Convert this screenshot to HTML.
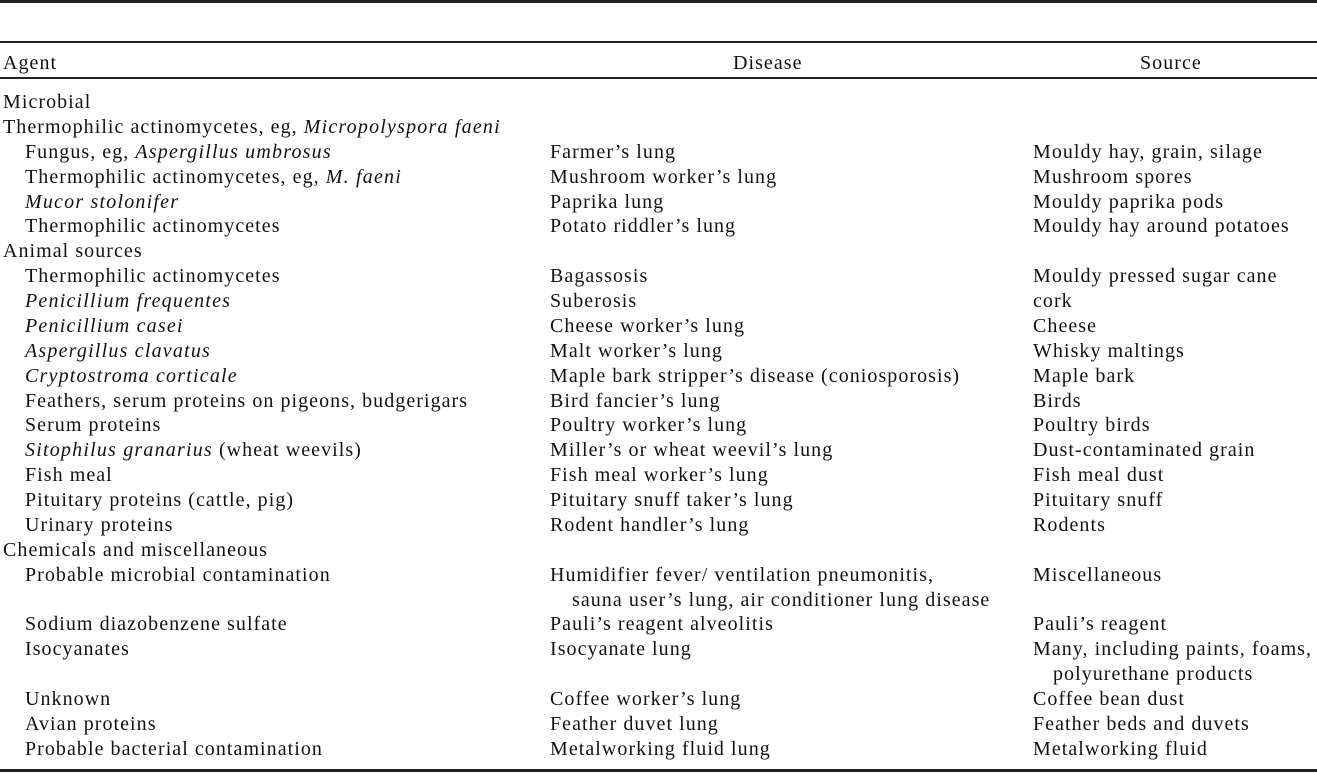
<!DOCTYPE html>
<html><head><meta charset="utf-8"><style>
body{margin:0;width:1317px;height:774px;background:#fff;position:relative;overflow:hidden;font-family:"Liberation Serif",serif;font-size:20px;letter-spacing:1.05px;color:#111}
.l{position:absolute;left:0;width:1317px;background:#222}
.c{position:absolute;top:90px;line-height:24.88px;white-space:nowrap}
.c div{height:24.88px}
.i{padding-left:22px}
.h{position:absolute;top:51px;line-height:25px}
i{letter-spacing:1.2px}
</style></head><body>
<div class="l" style="top:0;height:3px"></div>
<div class="l" style="top:41px;height:2px"></div>
<div class="l" style="top:77px;height:2px"></div>
<div class="l" style="top:769px;height:3px"></div>
<div class="h" style="left:3px">Agent</div>
<div class="h" style="left:733px">Disease</div>
<div class="h" style="left:1140px">Source</div>
<div class="c" style="left:3px"><div>Microbial</div><div>Thermophilic actinomycetes, eg, <i>Micropolyspora faeni</i></div><div class="i">Fungus, eg, <i>Aspergillus umbrosus</i></div><div class="i">Thermophilic actinomycetes, eg, <i>M. faeni</i></div><div class="i"><i>Mucor stolonifer</i></div><div class="i">Thermophilic actinomycetes</div><div>Animal sources</div><div class="i">Thermophilic actinomycetes</div><div class="i"><i>Penicillium frequentes</i></div><div class="i"><i>Penicillium casei</i></div><div class="i"><i>Aspergillus clavatus</i></div><div class="i"><i>Cryptostroma corticale</i></div><div class="i">Feathers, serum proteins on pigeons, budgerigars</div><div class="i">Serum proteins</div><div class="i"><i>Sitophilus granarius</i> (wheat weevils)</div><div class="i">Fish meal</div><div class="i">Pituitary proteins (cattle, pig)</div><div class="i">Urinary proteins</div><div>Chemicals and miscellaneous</div><div class="i">Probable microbial contamination</div><div></div><div class="i">Sodium diazobenzene sulfate</div><div class="i">Isocyanates</div><div></div><div class="i">Unknown</div><div class="i">Avian proteins</div><div class="i">Probable bacterial contamination</div></div>
<div class="c" style="left:550px"><div></div><div></div><div>Farmer’s lung</div><div>Mushroom worker’s lung</div><div>Paprika lung</div><div>Potato riddler’s lung</div><div></div><div>Bagassosis</div><div>Suberosis</div><div>Cheese worker’s lung</div><div>Malt worker’s lung</div><div>Maple bark stripper’s disease (coniosporosis)</div><div>Bird fancier’s lung</div><div>Poultry worker’s lung</div><div>Miller’s or wheat weevil’s lung</div><div>Fish meal worker’s lung</div><div>Pituitary snuff taker’s lung</div><div>Rodent handler’s lung</div><div></div><div>Humidifier fever/ ventilation pneumonitis,</div><div class="i">sauna user’s lung, air conditioner lung disease</div><div>Pauli’s reagent alveolitis</div><div>Isocyanate lung</div><div></div><div>Coffee worker’s lung</div><div>Feather duvet lung</div><div>Metalworking fluid lung</div></div>
<div class="c" style="left:1033px"><div></div><div></div><div>Mouldy hay, grain, silage</div><div>Mushroom spores</div><div>Mouldy paprika pods</div><div>Mouldy hay around potatoes</div><div></div><div>Mouldy pressed sugar cane</div><div>cork</div><div>Cheese</div><div>Whisky maltings</div><div>Maple bark</div><div>Birds</div><div>Poultry birds</div><div>Dust-contaminated grain</div><div>Fish meal dust</div><div>Pituitary snuff</div><div>Rodents</div><div></div><div>Miscellaneous</div><div></div><div>Pauli’s reagent</div><div>Many, including paints, foams,</div><div style="padding-left:20px">polyurethane products</div><div>Coffee bean dust</div><div>Feather beds and duvets</div><div>Metalworking fluid</div></div>
</body></html>
